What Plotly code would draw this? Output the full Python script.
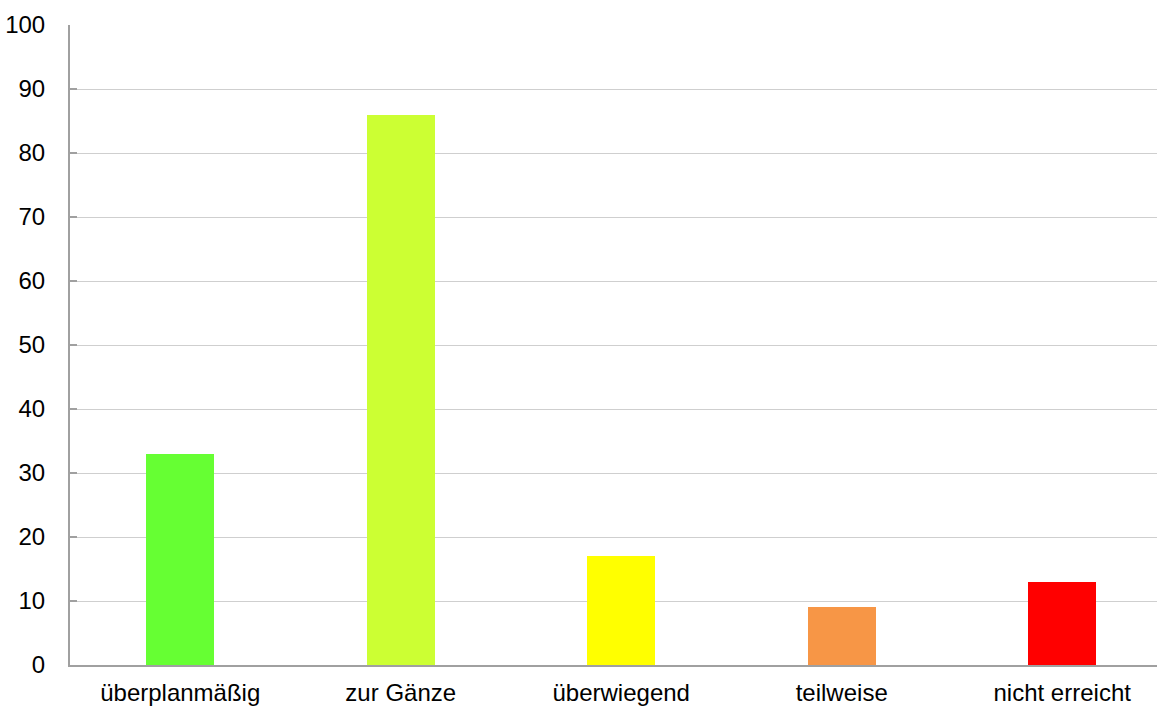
import plotly.graph_objects as go

categories = ["überplanmäßig", "zur Gänze", "überwiegend", "teilweise", "nicht erreicht"]
values = [33, 86, 17, 9, 13]
colors = ["#66FF33", "#CCFF33", "#FFFF00", "#F79646", "#FF0000"]
y_ticks = list(range(0, 101, 10))

fig = go.Figure(go.Bar(
    x=list(range(len(categories))), y=values,
    marker=dict(color=colors, line=dict(width=0)),
    width=0.31,
))

fig.update_layout(
    width=1157, height=709,
    margin=dict(l=70, r=0, t=25, b=44),
    plot_bgcolor="white", paper_bgcolor="white",
    font=dict(family="Liberation Sans, Arial", size=24, color="#000000"),
    showlegend=False,
    bargap=0,
)
fig.update_xaxes(
    range=[-0.5, 4.43], automargin=False,
    tickmode="array", tickvals=list(range(len(categories))), ticktext=categories,
    tickfont=dict(size=24),
    showline=True, linecolor="#A0A0A0", linewidth=2,
    showgrid=False, ticks="", ticklabelstandoff=5,
)
fig.update_yaxes(
    range=[0, 100], tickvals=y_ticks, automargin=False,
    tickfont=dict(size=24),
    showline=True, linecolor="#A0A0A0", linewidth=2,
    showgrid=True, gridcolor="#CFCFCF", gridwidth=1,
    ticks="inside", ticklen=7, tickcolor="#A0A0A0", tickwidth=2,
    ticklabelstandoff=18, zeroline=False,
)
fig.write_html("out.html", config={"displayModeBar": False},
               post_script="document.body.style.margin='0';document.body.style.overflow='hidden';")
